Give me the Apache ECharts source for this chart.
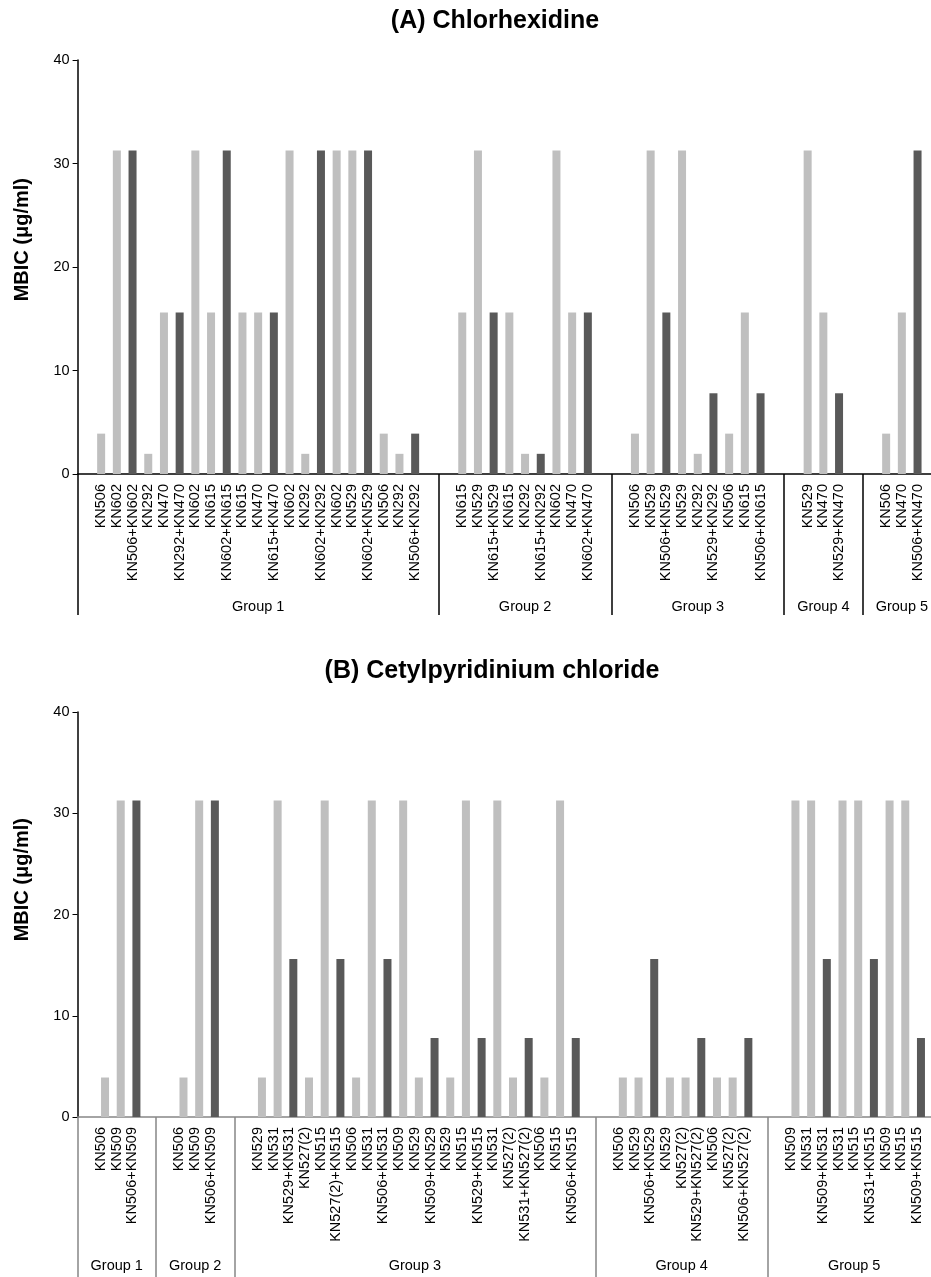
<!DOCTYPE html>
<html>
<head>
<meta charset="utf-8">
<script src="https://cdn.jsdelivr.net/npm/echarts@6/dist/echarts.min.js"></script>
<style>
html,body{margin:0;padding:0;background:#fff;overflow:hidden;width:931px;height:1277px;}
#chart{width:950px;height:1277px;}
</style>
</head>
<body>
<div id="chart"></div>
<script>
// ---------- DATA ----------
const titleA = '(A) Chlorhexidine';
const titleB = '(B) Cetylpyridinium chloride';
const yAxisTitle = 'MBIC (μg/ml)';
const yTicks = [0, 10, 20, 30, 40];

const groupNamesA = ['Group 1', 'Group 2', 'Group 3', 'Group 4', 'Group 5'];
const strainsA1 = ['KN506','KN602','KN506+KN602','KN292','KN470','KN292+KN470','KN602','KN615','KN602+KN615','KN615','KN470','KN615+KN470','KN602','KN292','KN602+KN292','KN602','KN529','KN602+KN529','KN506','KN292','KN506+KN292'];
const mbicA1    = [3.9, 31.25, 31.25, 1.95, 15.6, 15.6, 31.25, 15.6, 31.25, 15.6, 15.6, 15.6, 31.25, 1.95, 31.25, 31.25, 31.25, 31.25, 3.9, 1.95, 3.9];
const strainsA2 = ['KN615','KN529','KN615+KN529','KN615','KN292','KN615+KN292','KN602','KN470','KN602+KN470'];
const mbicA2    = [15.6, 31.25, 15.6, 15.6, 1.95, 1.95, 31.25, 15.6, 15.6];
const strainsA3 = ['KN506','KN529','KN506+KN529','KN529','KN292','KN529+KN292','KN506','KN615','KN506+KN615'];
const mbicA3    = [3.9, 31.25, 15.6, 31.25, 1.95, 7.8, 3.9, 15.6, 7.8];
const strainsA4 = ['KN529','KN470','KN529+KN470'];
const mbicA4    = [31.25, 15.6, 7.8];
const strainsA5 = ['KN506','KN470','KN506+KN470'];
const mbicA5    = [3.9, 15.6, 31.25];

const groupNamesB = ['Group 1', 'Group 2', 'Group 3', 'Group 4', 'Group 5'];
const strainsB1 = ['KN506','KN509','KN506+KN509'];
const mbicB1    = [3.9, 31.25, 31.25];
const strainsB2 = ['KN506','KN509','KN506+KN509'];
const mbicB2    = [3.9, 31.25, 31.25];
const strainsB3 = ['KN529','KN531','KN529+KN531','KN527(2)','KN515','KN527(2)+KN515','KN506','KN531','KN506+KN531','KN509','KN529','KN509+KN529','KN529','KN515','KN529+KN515','KN531','KN527(2)','KN531+KN527(2)','KN506','KN515','KN506+KN515'];
const mbicB3    = [3.9, 31.25, 15.6, 3.9, 31.25, 15.6, 3.9, 31.25, 15.6, 31.25, 3.9, 7.8, 3.9, 31.25, 7.8, 31.25, 3.9, 7.8, 3.9, 31.25, 7.8];
const strainsB4 = ['KN506','KN529','KN506+KN529','KN529','KN527(2)','KN529+KN527(2)','KN506','KN527(2)','KN506+KN527(2)'];
const mbicB4    = [3.9, 3.9, 15.6, 3.9, 3.9, 7.8, 3.9, 3.9, 7.8];
const strainsB5 = ['KN509','KN531','KN509+KN531','KN531','KN515','KN531+KN515','KN509','KN515','KN509+KN515'];
const mbicB5    = [31.25, 31.25, 15.6, 31.25, 31.25, 15.6, 31.25, 31.25, 7.8];

// ---------- BUILD ----------
const LIGHT = '#bfbfbf', DARK = '#595959';
const FONT = 'Liberation Sans, Arial, sans-serif';
const FS = 14.5;

function buildAxis(groupNames, strainGroups, valueGroups) {
  const cats = [''];           // one leading empty slot
  const vals = ['-'];
  const seps = [0];
  strainGroups.forEach((g, gi) => {
    if (gi > 0) { cats.push('', ''); vals.push('-', '-'); seps.push(cats.length - 1); }
    g.forEach((s, i) => { cats.push(s); vals.push(valueGroups[gi][i]); });
  });
  cats.push(''); vals.push('-');   // trailing empty slot
  const n = cats.length;
  const groupCats = new Array(n).fill('');
  seps.forEach((s, k) => {
    const end = k + 1 < seps.length ? seps[k + 1] - 1 : n - 1;
    groupCats[Math.round((s + end) / 2)] = groupNames[k];
  });
  const data = vals.map((v, i) => v === '-' ? '-' : {
    value: v,
    itemStyle: { color: cats[i].indexOf('+') >= 0 ? DARK : LIGHT }
  });
  return { cats, data, seps, groupCats };
}

const A = buildAxis(groupNamesA, [strainsA1, strainsA2, strainsA3, strainsA4, strainsA5], [mbicA1, mbicA2, mbicA3, mbicA4, mbicA5]);
const B = buildAxis(groupNamesB, [strainsB1, strainsB2, strainsB3, strainsB4, strainsB5], [mbicB1, mbicB2, mbicB3, mbicB4, mbicB5]);

const chart = echarts.init(document.getElementById('chart'), null, { renderer: 'canvas' });

function catAxis(gridIndex, cats, lineColor, margin) {
  return {
    type: 'category', gridIndex, data: cats, position: 'bottom',
    axisLine: { show: true, lineStyle: { color: lineColor, width: 1.5 } },
    axisTick: { show: false },
    axisLabel: { interval: 0, rotate: 90, margin, fontSize: FS, color: '#000', fontFamily: FONT, hideOverlap: false },
    splitLine: { show: false }
  };
}
function groupAxis(gridIndex, groupCats, seps, lineColor, tickLen, margin) {
  return {
    type: 'category', gridIndex, data: groupCats, position: 'bottom',
    axisLine: { show: false },
    axisTick: { show: true, length: tickLen, interval: (idx) => seps.indexOf(idx) >= 0, lineStyle: { color: lineColor, width: 1.5 } },
    axisLabel: { interval: 0, margin, fontSize: FS, color: '#000', fontFamily: FONT },
    splitLine: { show: false }
  };
}
function valAxis(gridIndex) {
  return {
    type: 'value', gridIndex, min: yTicks[0], max: yTicks[yTicks.length - 1], interval: 10,
    axisLine: { show: true, lineStyle: { color: '#000', width: 1.5 } },
    axisTick: { show: true, length: 5, lineStyle: { color: '#000', width: 1 } },
    axisLabel: { fontSize: FS, color: '#000', fontFamily: FONT, margin: 8 },
    splitLine: { show: false }
  };
}

chart.setOption({
  animation: false,
  backgroundColor: '#fff',
  title: [
    { text: titleA, left: 490, top: 4, textAlign: 'center', textStyle: { fontSize: 25, fontWeight: 'bold', fontFamily: FONT, color: '#000' } },
    { text: titleB, left: 487, top: 654, textAlign: 'center', textStyle: { fontSize: 25, fontWeight: 'bold', fontFamily: FONT, color: '#000' } }
  ],
  graphic: [
    { type: 'text', left: 12, top: 178, rotation: Math.PI / 2, style: { text: yAxisTitle, font: 'bold 20px ' + FONT, fill: '#000' } },
    { type: 'text', left: 12, top: 818, rotation: Math.PI / 2, style: { text: yAxisTitle, font: 'bold 20px ' + FONT, fill: '#000' } }
  ],
  grid: [
    { left: 77.6, top: 60, width: 863.5, height: 414, containLabel: false },
    { left: 77.5, top: 712, width: 863, height: 405, containLabel: false }
  ],
  xAxis: [
    catAxis(0, A.cats, '#000', 10),
    groupAxis(0, A.groupCats, A.seps, '#000', 141, 125),
    catAxis(1, B.cats, '#868686', 10),
    groupAxis(1, B.groupCats, B.seps, '#868686', 170, 141)
  ],
  yAxis: [valAxis(0), valAxis(1)],
  series: [
    { type: 'bar', xAxisIndex: 0, yAxisIndex: 0, barWidth: 8, data: A.data },
    { type: 'bar', xAxisIndex: 2, yAxisIndex: 1, barWidth: 8, barGap: '0%', data: B.cats.map(() => '-') },
    { type: 'bar', xAxisIndex: 2, yAxisIndex: 1, barWidth: 8, barGap: '0%', data: B.data }
  ]
});
</script>
</body>
</html>
